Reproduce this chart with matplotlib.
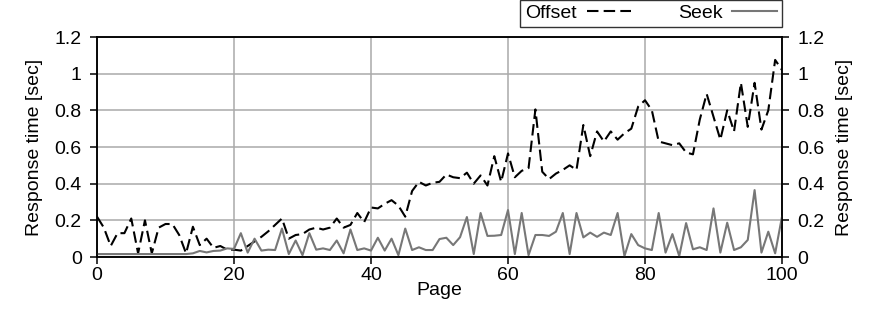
"""Response time per page: offset vs seek."""

import matplotlib

matplotlib.use("Agg")
import matplotlib.pyplot as plt
from matplotlib.ticker import FormatStrFormatter

plt.rcParams.update(
    {
        "font.family": ["Liberation Sans", "DejaVu Sans"],
        "font.size": 14,
        "axes.linewidth": 1.1,
    }
)

pages = list(range(101))

offset = [
    0.22, 0.16, 0.06, 0.13, 0.13, 0.21, 0.02, 0.20, 0.02, 0.16,
    0.18, 0.18, 0.12, 0.02, 0.165, 0.065, 0.10, 0.05, 0.06, 0.04,
    0.04, 0.035, 0.06, 0.085, 0.11, 0.14, 0.175, 0.21, 0.10, 0.12,
    0.125, 0.15, 0.16, 0.15, 0.16, 0.21, 0.16, 0.175, 0.24, 0.19,
    0.27, 0.265, 0.29, 0.31, 0.28, 0.22, 0.36, 0.41, 0.39, 0.405,
    0.41, 0.45, 0.435, 0.43, 0.46, 0.40, 0.445, 0.39, 0.55, 0.41,
    0.565, 0.435, 0.47, 0.485, 0.805, 0.465, 0.425, 0.455, 0.475, 0.50,
    0.475, 0.72, 0.55, 0.685, 0.63, 0.685, 0.64, 0.675, 0.70, 0.82,
    0.855, 0.80, 0.63, 0.62, 0.61, 0.62, 0.57, 0.56, 0.75, 0.89,
    0.765, 0.64, 0.80, 0.685, 0.95, 0.71, 0.95, 0.695, 0.80, 1.075,
    1.02,
]

seek = [
    0.016, 0.016, 0.016, 0.016, 0.016, 0.016, 0.016, 0.016, 0.016, 0.016,
    0.016, 0.016, 0.016, 0.016, 0.02, 0.033, 0.025, 0.033, 0.035, 0.047,
    0.044, 0.13, 0.024, 0.10, 0.035, 0.04, 0.038, 0.155, 0.016, 0.09,
    0.01, 0.13, 0.04, 0.047, 0.038, 0.09, 0.02, 0.15, 0.038, 0.047,
    0.035, 0.105, 0.035, 0.10, 0.01, 0.155, 0.038, 0.053, 0.038, 0.038,
    0.098, 0.105, 0.065, 0.108, 0.218, 0.016, 0.24, 0.115, 0.116, 0.12,
    0.256, 0.016, 0.24, 0.01, 0.12, 0.12, 0.115, 0.138, 0.24, 0.016,
    0.24, 0.107, 0.133, 0.11, 0.133, 0.12, 0.24, 0.005, 0.125, 0.065,
    0.047, 0.038, 0.24, 0.024, 0.125, 0.005, 0.185, 0.042, 0.053, 0.038,
    0.265, 0.024, 0.187, 0.038, 0.053, 0.093, 0.365, 0.024, 0.138, 0.02,
    0.22,
]

x_ticks = [0, 20, 40, 60, 80, 100]
y_ticks = [0, 0.2, 0.4, 0.6, 0.8, 1.0, 1.2]

fig = plt.figure(figsize=(8.75, 3.14), dpi=100)
ax = fig.add_axes([97 / 875, 1 - 257 / 314, 685 / 875, 220 / 314])

line_off, = ax.plot(pages, offset, color="black", lw=1.5, label="Offset", zorder=3)
line_off.set_dashes([5.5, 2.5])
line_seek, = ax.plot(pages, seek, color="#777777", lw=1.5, label="Seek", zorder=3)

ax.set_xlim(0, 100)
ax.set_ylim(0, 1.2)
ax.set_xticks(x_ticks)
ax.set_yticks(y_ticks)
ax.yaxis.set_major_formatter(FormatStrFormatter("%g"))
ax.grid(True, color="#aaaaaa", lw=1.1, zorder=0)
ax.set_axisbelow(True)
ax.tick_params(axis="both", direction="out", length=5, width=1.1, color="black")
ax.tick_params(axis="x", pad=2)
ax.tick_params(axis="y", pad=6)
ax.set_xlabel("Page", labelpad=-1)
ax.set_ylabel("Response time [sec]", labelpad=8)

ax2 = ax.twinx()
ax2.set_ylim(0, 1.2)
ax2.set_yticks(y_ticks)
ax2.yaxis.set_major_formatter(FormatStrFormatter("%g"))
ax2.tick_params(axis="y", direction="out", length=5, width=1.1, pad=6)
ax2.set_ylabel("Response time [sec]", labelpad=8)

leg = ax.legend(
    loc="lower right",
    bbox_to_anchor=(1.0, 1.045),
    ncol=2,
    markerfirst=False,
    frameon=True,
    fancybox=False,
    handlelength=2.3,
    handletextpad=0.5,
    columnspacing=2.4,
    borderpad=0.25,
    borderaxespad=0,
    fontsize=14,
)
leg.get_frame().set_edgecolor("black")
leg.get_frame().set_linewidth(1.0)

fig.savefig("out.png", dpi=100)
